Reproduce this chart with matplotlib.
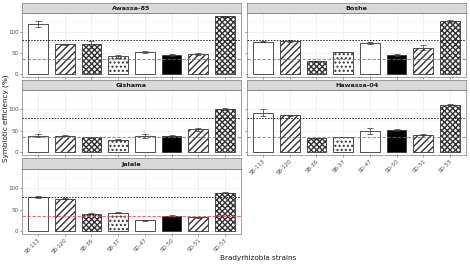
import matplotlib
matplotlib.use("Agg")
import matplotlib.pyplot as plt

plt.rcParams["hatch.linewidth"] = 1.0

strains = ["SB-113", "SB-120", "SB-36", "SB-37", "SD-47", "SD-50", "SD-51", "SD-53"]
hatches = ["", "/////", "xxxxxx", "....", "", "", "/////", "xxxxxx"]
fills = ["white", "white", "white", "white", "white", "black", "white", "white"]

varieties = ["Awassa-85", "Boshe", "Gishama", "Hawassa-04", "Jalale"]
awassa = [119, 71, 71, 42, 52, 45, 48, 137]
awassa_err = [7, 1, 8, 4, 3, 3, 2, 1]
boshe = [77, 79, 30, 53, 74, 45, 62, 126]
boshe_err = [1, 2, 0.5, 0.5, 2, 2, 6, 2]
gishama = [38, 38, 34, 29, 37, 38, 53, 101]
gishama_err = [3, 1, 1, 2, 5, 1, 4, 2]
hawassa = [92, 86, 32, 35, 50, 52, 40, 111]
hawassa_err = [8, 1, 1, 1, 7, 2, 1, 1]
jalale = [80, 76, 40, 43, 25, 35, 32, 90]
jalale_err = [3, 2, 1, 1, 1, 3, 1, 2]

values = [awassa, boshe, gishama, hawassa, jalale]
errors = [awassa_err, boshe_err, gishama_err, hawassa_err, jalale_err]

ref_black = 80
ref_red = 35

W, H = 470, 265
col_x = [22, 247]
pw = 219
rows = [(3, 13, 77), (80, 90, 155), (158, 169, 234)]

fig = plt.figure(figsize=(4.7, 2.65), dpi=100)
grey = "#4d4d4d"

for i, name in enumerate(varieties):
    r, c = divmod(i, 2)
    st, pt, pb = rows[r]
    x0 = col_x[c]
    ax = fig.add_axes([x0 / W, 1 - pb / H, pw / W, (pb - pt) / H])
    sax = fig.add_axes([x0 / W, 1 - pt / H, pw / W, (pt - st) / H])
    sax.set_facecolor("#d9d9d9")
    sax.set_xticks([]); sax.set_yticks([])
    for s in sax.spines.values():
        s.set_color("#7f7f7f"); s.set_linewidth(0.5)
    sax.text(0.5, 0.45, name, ha="center", va="center", fontsize=4.6,
             fontweight="bold", color="#1a1a1a", transform=sax.transAxes)

    xs = range(len(strains))
    for j in xs:
        ax.bar(j, values[i][j], width=0.74, color=fills[j], edgecolor="#333333",
               hatch=hatches[j], linewidth=0.6, zorder=3)
    ax.errorbar(list(xs), values[i], yerr=errors[i], fmt="none", ecolor="#333333",
                elinewidth=0.5, capsize=2.2, capthick=0.5, zorder=4)
    ax.axhline(ref_black, color="#222222", ls=(0, (1.5, 1.5)), lw=0.7, zorder=5)
    ax.axhline(ref_red, color="#e04848", ls=(0, (3, 1.5)), lw=0.8, alpha=0.8, zorder=5)

    ax.set_xlim(-0.6, 7.6)
    ax.set_ylim(-7, 145)
    ax.set_yticks([0, 50, 100])
    ax.set_yticks([25, 75, 125], minor=True)
    ax.set_xticks(list(xs))
    ax.grid(True, which="major", color="#ebebeb", lw=0.5, zorder=0)
    ax.grid(True, which="minor", axis="y", color="#f4f4f4", lw=0.4, zorder=0)
    for s in ax.spines.values():
        s.set_color("#7f7f7f"); s.set_linewidth(0.5)
    ax.tick_params(axis="both", which="major", length=1.5, width=0.4, color=grey,
                   labelsize=4, labelcolor=grey, pad=1)
    ax.tick_params(axis="y", which="minor", length=0)
    if c == 1:
        ax.set_yticklabels([])
    if i in (3, 4):
        ax.set_xticklabels(strains, rotation=45, ha="right", rotation_mode="anchor")
    else:
        ax.set_xticklabels([])

fig.text(258 / W, 1 - 258 / H, "Bradyrhizobia strains", ha="center", va="center",
         fontsize=5.2, color="#1a1a1a")
fig.text(6 / W, 1 - 118 / H, "Symbiotic efficiency (%)", ha="center", va="center",
         rotation=90, fontsize=5.2, color="#1a1a1a")

fig.savefig("out.png", dpi=100)
